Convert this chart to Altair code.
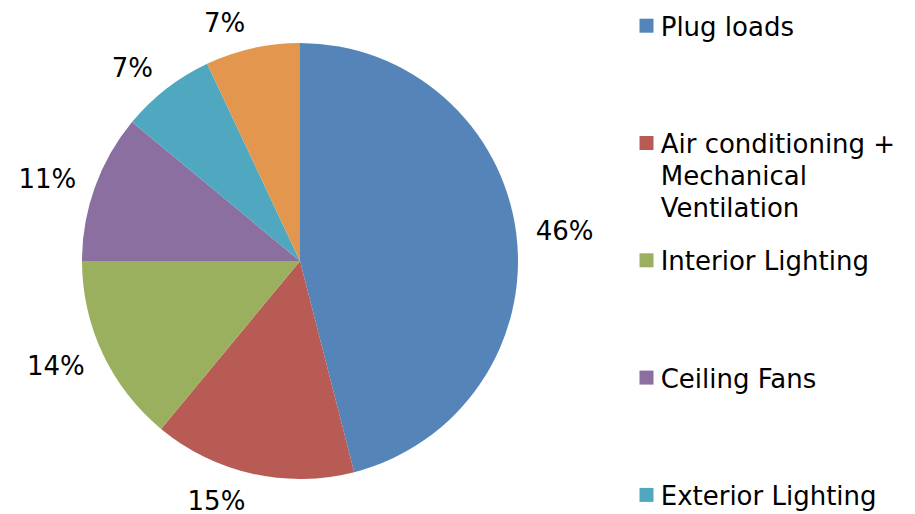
import altair as alt
import pandas as pd

# ---- data ----
categories = [
    "Plug loads",
    "Air conditioning +\nMechanical\nVentilation",
    "Interior Lighting",
    "Ceiling Fans",
    "Exterior Lighting",
    "Others",
]
values = [46, 15, 14, 11, 7, 7]
colors = ["#5585B8", "#B85B54", "#9BB05E", "#8A6FA0", "#4FA8BF", "#E2964E"]

df = pd.DataFrame({"category": categories, "value": values, "idx": list(range(len(values)))})

FONT = "DejaVu Sans"
FS = 26

base = alt.Chart(df)

color = alt.Color("category:N", scale=alt.Scale(domain=categories, range=colors), legend=None)

pie = base.mark_arc(outerRadius=218, stroke=None).encode(
    theta=alt.Theta("value:Q", stack=True),
    color=color,
    order=alt.Order("idx:Q"),
)

# label placement: anchor on the mid-angle ray, box pushed outward
labels = base.transform_window(
    cum="sum(value)", sort=[alt.SortField("idx")], frame=[None, 0]
).transform_joinaggregate(
    total="sum(value)"
).transform_calculate(
    lbl="datum.value + '%'",
    mid="2*PI*(datum.cum - datum.value/2)/datum.total",
).transform_calculate(
    hw="(length(datum.lbl)-1)*8.25 + 16",
).transform_calculate(
    cx="234*sin(datum.mid) + (sin(datum.mid) >= 0 ? 1 : -1)*datum.hw",
    cy="234*cos(datum.mid) + 11*cos(datum.mid)",
).transform_calculate(
    th="atan2(datum.cx, datum.cy)",
    rr="sqrt(datum.cx*datum.cx + datum.cy*datum.cy)",
).mark_text(font=FONT, fontSize=FS, color="#000000", align="center", baseline="middle", dy=2).encode(
    theta=alt.Theta("th:Q", scale=None),
    radius=alt.Radius("rr:Q", scale=None),
    text="lbl:N",
)

ypos = alt.Y(
    "category:N",
    scale=alt.Scale(type="point", domain=categories, range=[17.7, 604.2], padding=0),
    axis=None,
)

leg_sq = base.mark_square(size=196, opacity=1).encode(
    x=alt.value(638.5),
    y=ypos,
    color=color,
)

leg_tx = base.mark_text(
    font=FONT, fontSize=FS, align="left", baseline="alphabetic", dy=10,
    lineBreak="\n", lineHeight=32.2, color="#000000",
).encode(
    x=alt.value(652.7),
    y=ypos,
    text="category:N",
)

chart = alt.layer(pie, labels, leg_sq, leg_tx).resolve_scale(
    theta="independent", radius="independent"
).properties(
    width=584,
    height=506,
    autosize=alt.AutoSizeParams(type="none"),
    padding={"left": 0, "top": 0, "right": 315, "bottom": 0},
).configure_view(stroke=None)

chart.save("out.html", embed_options={"renderer": "svg", "actions": False})
